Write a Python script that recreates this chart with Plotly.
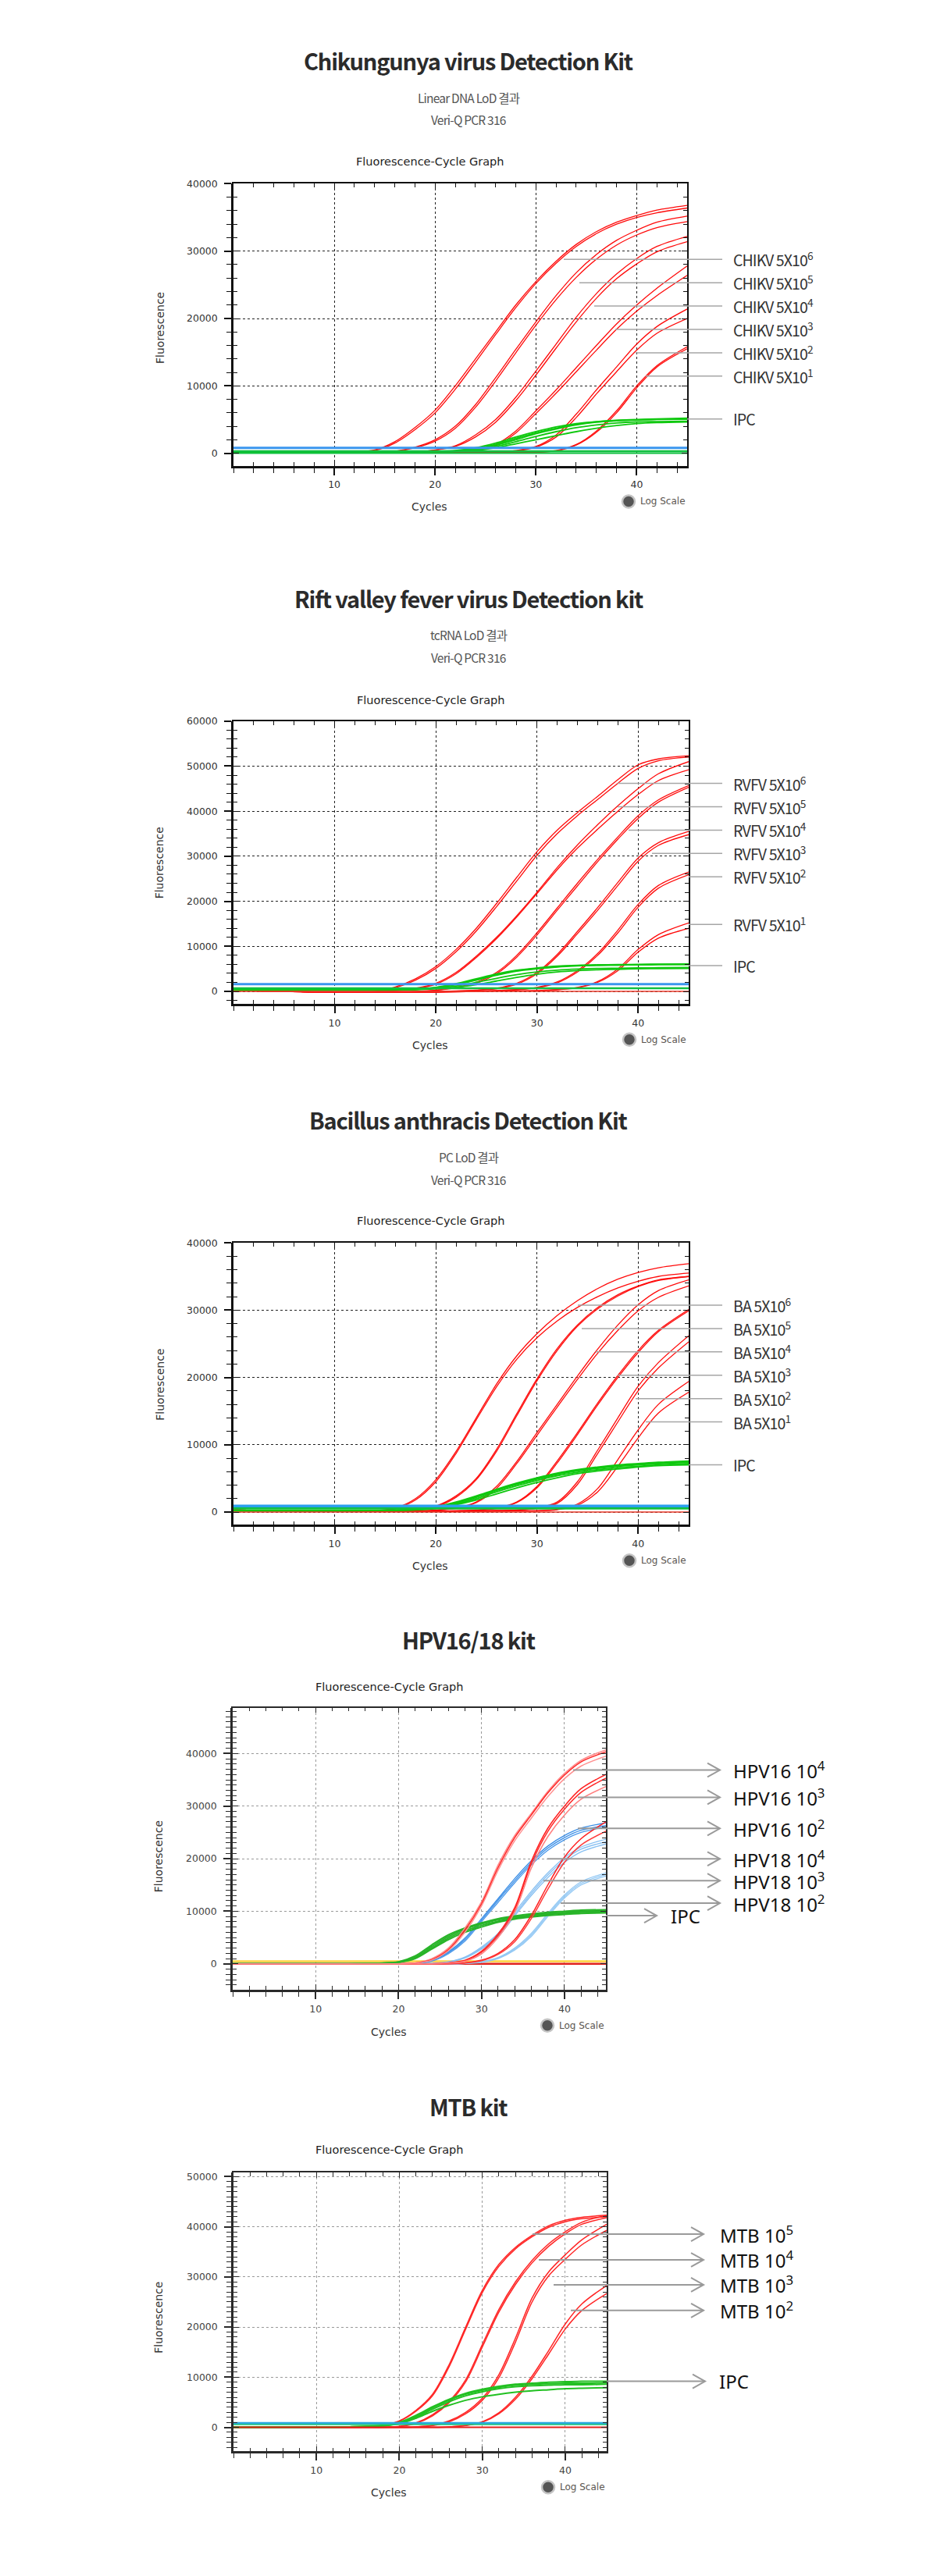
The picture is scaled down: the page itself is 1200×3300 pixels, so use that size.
import plotly.graph_objects as go

W, H = 1200, 3300

# ---------------- data ----------------
CYCLES = [0, 10, 14, 16, 18, 20, 22, 24, 26, 28, 30, 32, 34, 36, 38, 40, 42, 45]
CYCLE_ENDS = [0, 45]
X_TICKS = [10, 20, 30, 40]
X_TICK_TEXT = ["10", "20", "30", "40"]

# Chart 1 - Chikungunya
CHIKV_6_A = [100, 150, 500, 1700, 3800, 6400, 10000, 14000, 18000, 22000, 25500, 28500, 31000, 32900, 34300, 35300, 36100, 36800]
CHIKV_6_B = [100, 120, 400, 1500, 3500, 6000, 9500, 13500, 17600, 21600, 25200, 28200, 30700, 32600, 34000, 35000, 35700, 36400]
CHIKV_5_A = [100, 100, 150, 300, 900, 2000, 4000, 7200, 11200, 15400, 19500, 23400, 26800, 29500, 31600, 33100, 34300, 35200]
CHIKV_5_B = [100, 100, 120, 250, 800, 1800, 3700, 6800, 10700, 14900, 19000, 22800, 26100, 28800, 30900, 32400, 33500, 34400]
CHIKV_4_A = [100, 100, 100, 120, 200, 500, 1100, 2700, 5000, 8300, 12200, 16200, 20200, 23700, 26600, 28900, 30700, 32200]
CHIKV_4_B = [100, 100, 100, 110, 180, 450, 1000, 2400, 4600, 7800, 11600, 15600, 19500, 23000, 25900, 28100, 29900, 31400]
CHIKV_3_A = [100, 100, 100, 100, 100, 150, 250, 500, 1300, 3300, 6300, 9400, 12700, 16000, 19200, 22000, 24500, 27800]
CHIKV_3_B = [100, 100, 100, 100, 100, 130, 220, 450, 1100, 3000, 5900, 8900, 12100, 15300, 18400, 21100, 23400, 26400]
CHIKV_2_A = [100, 100, 100, 100, 100, 100, 100, 150, 200, 400, 1000, 2700, 5800, 9400, 12800, 16200, 18800, 21400]
CHIKV_2_B = [100, 100, 100, 100, 100, 100, 100, 130, 180, 350, 900, 2400, 5300, 8800, 12100, 15300, 17800, 20000]
CHIKV_1_A = [100, 100, 100, 100, 100, 100, 100, 100, 100, 100, 150, 400, 1300, 3300, 6300, 10000, 13000, 15800]
CHIKV_1_B = [100, 100, 100, 100, 100, 100, 100, 100, 100, 100, 130, 350, 1200, 3100, 6000, 9700, 12800, 15500]
CHIKV_IPC_1 = [200, 200, 200, 200, 250, 300, 400, 800, 1500, 2400, 3200, 3900, 4400, 4700, 4900, 5000, 5100, 5200]
CHIKV_IPC_2 = [200, 200, 200, 200, 230, 280, 350, 700, 1300, 2200, 3000, 3700, 4300, 4650, 4850, 4950, 5050, 5100]
CHIKV_IPC_3 = [200, 200, 200, 200, 220, 260, 300, 600, 1200, 2000, 2900, 3600, 4200, 4600, 4800, 4950, 5000, 5050]
CHIKV_IPC_4 = [200, 200, 200, 200, 210, 230, 250, 400, 800, 1400, 2000, 2600, 3200, 3700, 4100, 4400, 4550, 4650]
CHIKV_IPC_5 = [200, 200, 200, 200, 220, 250, 300, 500, 1000, 1700, 2500, 3200, 3800, 4200, 4500, 4650, 4700, 4750]
CHIKV_BASE_BLUE = [800, 800]
CHIKV_BASE_GREEN = [300, 300]
CHIKV_BASE_ZERO = [0, 0]
CHIKV_LABELS = ["CHIKV 5X10<sup>6</sup>", "CHIKV 5X10<sup>5</sup>", "CHIKV 5X10<sup>4</sup>",
                "CHIKV 5X10<sup>3</sup>", "CHIKV 5X10<sup>2</sup>", "CHIKV 5X10<sup>1</sup>", "IPC"]

# Chart 2 - Rift valley fever
RVFV_6_A = [200, -200, 0, 1000, 2800, 5500, 9300, 14000, 19500, 25300, 31000, 35800, 39700, 43300, 47000, 50300, 51600, 52300]
RVFV_6_B = [200, -200, -100, 800, 2500, 5100, 8800, 13400, 18800, 24500, 30200, 35000, 39000, 42600, 46200, 49500, 51200, 52000]
RVFV_5_A = [200, -200, -100, 200, 700, 1800, 4200, 7800, 12000, 16800, 22000, 27500, 32500, 37000, 41200, 45000, 48300, 51000]
RVFV_5_B = [200, -200, -100, 150, 600, 1600, 3900, 7500, 11700, 16500, 21700, 27000, 31800, 36000, 40000, 43700, 46800, 49200]
RVFV_4_A = [200, -200, -200, -100, 0, 300, 900, 2000, 4200, 8000, 13000, 18500, 24000, 29300, 34300, 39000, 42500, 45700]
RVFV_4_B = [200, -200, -200, -100, 0, 250, 800, 1800, 3900, 7600, 12500, 18000, 23400, 28800, 33800, 38400, 42000, 45300]
RVFV_3_A = [200, -200, -200, -200, -100, 0, 100, 300, 700, 1800, 4200, 8200, 13300, 18600, 24200, 29600, 33000, 35500]
RVFV_3_B = [200, -200, -200, -200, -100, 0, 80, 250, 600, 1600, 3900, 7800, 12800, 18000, 23500, 28900, 32400, 34800]
RVFV_2_A = [200, -200, -200, -200, -200, -100, 0, 100, 200, 400, 900, 2100, 4600, 8400, 13600, 19300, 23500, 26500]
RVFV_2_B = [200, -200, -200, -200, -200, -100, 0, 80, 180, 350, 800, 1900, 4300, 8000, 13000, 18700, 22900, 25900]
RVFV_1_A = [200, -200, -200, -200, -200, -200, -100, 0, 100, 100, 200, 400, 900, 2200, 5000, 9300, 12600, 15200]
RVFV_1_B = [200, -200, -200, -200, -200, -200, -100, 0, 80, 100, 150, 350, 800, 2000, 4600, 8700, 11800, 14000]
RVFV_IPC_1 = [300, 300, 300, 350, 500, 900, 1700, 2800, 3900, 4700, 5200, 5600, 5800, 5900, 5950, 6000, 6050, 6100]
RVFV_IPC_2 = [300, 300, 300, 330, 450, 800, 1500, 2500, 3600, 4500, 5000, 5400, 5650, 5800, 5850, 5900, 5950, 6000]
RVFV_IPC_3 = [300, 300, 300, 320, 400, 700, 1200, 2000, 2900, 3700, 4300, 4700, 4950, 5100, 5150, 5200, 5250, 5300]
RVFV_IPC_4 = [300, 300, 300, 310, 380, 600, 900, 1500, 2300, 3100, 3800, 4300, 4600, 4800, 4900, 5000, 5050, 5100]
RVFV_IPC_5 = [300, 300, 300, 340, 480, 850, 1600, 2600, 3700, 4600, 5100, 5500, 5700, 5800, 5850, 5900, 5950, 5950]
RVFV_BASE_BLUE = [1600, 1600]
RVFV_BASE_GREEN = [700, 700]
RVFV_BASE_ZERO = [0, 0]
RVFV_LABELS = ["RVFV 5X10<sup>6</sup>", "RVFV 5X10<sup>5</sup>", "RVFV 5X10<sup>4</sup>",
               "RVFV 5X10<sup>3</sup>", "RVFV 5X10<sup>2</sup>", "RVFV 5X10<sup>1</sup>", "IPC"]

# Chart 3 - Bacillus anthracis
BA_6_A = [300, 100, 200, 600, 2000, 4800, 9000, 14000, 19000, 23200, 26500, 29200, 31400, 33200, 34600, 35600, 36300, 36900]
BA_6_B = [300, 100, 150, 500, 1800, 4500, 8700, 13700, 18600, 22700, 25900, 28400, 30400, 32000, 33300, 34300, 35000, 35500]
BA_5_A = [300, 100, 100, 200, 400, 900, 2400, 5000, 9300, 14600, 19800, 24300, 27800, 30400, 32300, 33600, 34500, 35000]
BA_5_B = [300, 100, 100, 200, 350, 800, 2200, 4800, 9000, 14300, 19500, 24000, 27600, 30200, 32100, 33500, 34400, 35000]
BA_4_A = [300, 100, 100, 100, 150, 300, 600, 1500, 3800, 7500, 11800, 16000, 20200, 24200, 27800, 30800, 32900, 34500]
BA_4_B = [300, 100, 100, 100, 130, 280, 550, 1400, 3500, 7200, 11400, 15600, 19700, 23600, 27000, 29900, 31900, 33600]
BA_3_A = [300, 100, 100, 100, 100, 150, 200, 300, 600, 1500, 3800, 7600, 11800, 16200, 20300, 24000, 27000, 30100]
BA_3_B = [300, 100, 100, 100, 100, 130, 180, 280, 550, 1400, 3600, 7300, 11500, 15900, 20000, 23700, 26800, 29900]
BA_2_A = [300, 100, 100, 100, 100, 100, 150, 200, 250, 300, 600, 1500, 4500, 9200, 14000, 18700, 22200, 26200]
BA_2_B = [300, 100, 100, 100, 100, 100, 130, 180, 220, 280, 550, 1300, 4100, 8700, 13400, 18000, 21400, 25300]
BA_1_A = [300, 100, 100, 100, 100, 100, 100, 120, 150, 180, 200, 400, 1200, 3500, 7800, 12200, 16000, 19400]
BA_1_B = [300, 100, 100, 100, 100, 100, 100, 110, 130, 160, 180, 350, 1000, 3000, 6800, 11000, 14700, 17800]
BA_IPC_1 = [200, 200, 250, 300, 450, 800, 1500, 2400, 3400, 4300, 5100, 5800, 6300, 6700, 7000, 7200, 7400, 7600]
BA_IPC_2 = [200, 200, 240, 280, 400, 700, 1300, 2200, 3200, 4100, 4900, 5600, 6100, 6500, 6800, 7000, 7200, 7400]
BA_IPC_3 = [200, 200, 230, 270, 350, 600, 1200, 2000, 3000, 3900, 4700, 5400, 5900, 6300, 6600, 6800, 7000, 7200]
BA_IPC_4 = [200, 200, 220, 260, 300, 550, 1100, 1800, 2700, 3600, 4400, 5100, 5700, 6100, 6400, 6700, 6900, 7000]
BA_IPC_5 = [200, 200, 240, 290, 400, 750, 1400, 2300, 3300, 4200, 5000, 5700, 6200, 6600, 6900, 7100, 7300, 7500]
BA_BASE_BLUE = [900, 900]
BA_BASE_GREEN = [550, 550]
BA_BASE_ZERO = [0, 0]
BA_LABELS = ["BA 5X10<sup>6</sup>", "BA 5X10<sup>5</sup>", "BA 5X10<sup>4</sup>",
             "BA 5X10<sup>3</sup>", "BA 5X10<sup>2</sup>", "BA 5X10<sup>1</sup>", "IPC"]

# Chart 4 - HPV16/18
HPV16_4_A = [0, 0, 0, 0, 0, 0, 200, 1000, 3000, 6800, 11800, 18800, 24400, 28600, 32800, 36200, 38700, 40700]
HPV16_4_B = [0, 0, 0, 0, 0, 0, 150, 800, 2700, 6400, 11400, 18300, 24000, 28300, 32500, 35900, 38400, 40300]
HPV16_4_C = [0, 0, 0, 0, 0, 0, 150, 700, 2500, 6000, 11000, 17800, 23400, 27700, 31800, 35200, 37600, 39500]
HPV16_3_A = [0, 0, 0, 0, 0, 0, 0, 0, 200, 700, 2400, 5700, 10700, 19500, 25800, 30000, 33300, 36000]
HPV16_3_B = [0, 0, 0, 0, 0, 0, 0, 0, 150, 600, 2200, 5400, 10300, 19000, 25200, 29400, 32600, 35300]
HPV16_3_C = [0, 0, 0, 0, 0, 0, 0, 0, 150, 500, 1900, 5000, 9800, 18200, 24200, 28300, 31300, 33700]
HPV16_2_A = [0, 0, 0, 0, 0, 0, 0, 0, 0, 200, 700, 2000, 4600, 9200, 15000, 20300, 23800, 27000]
HPV16_2_B = [0, 0, 0, 0, 0, 0, 0, 0, 0, 150, 600, 1800, 4200, 8600, 14200, 19300, 22600, 25200]
HPV18_4_A = [0, 0, 0, 0, 0, 0, 100, 700, 2300, 4900, 8600, 12400, 16200, 19600, 22400, 24400, 25800, 26800]
HPV18_4_B = [0, 0, 0, 0, 0, 0, 80, 600, 2100, 4600, 8300, 12100, 15800, 19200, 22000, 24000, 25400, 26300]
HPV18_4_C = [0, 0, 0, 0, 0, 0, 80, 500, 1900, 4300, 8000, 11700, 15400, 18800, 21600, 23600, 25000, 26000]
HPV18_3_A = [0, 0, 0, 0, 0, 0, 0, 100, 400, 1300, 3200, 5800, 9800, 13800, 17300, 20200, 22200, 23700]
HPV18_3_B = [0, 0, 0, 0, 0, 0, 0, 80, 350, 1200, 3000, 5500, 9400, 13400, 16900, 19800, 21800, 23200]
HPV18_3_C = [0, 0, 0, 0, 0, 0, 0, 80, 300, 1100, 2800, 5200, 9100, 13000, 16400, 19300, 21300, 22800]
HPV18_2_A = [0, 0, 0, 0, 0, 0, 0, 0, 0, 100, 400, 1200, 3000, 5800, 9600, 13100, 15600, 17300]
HPV18_2_B = [0, 0, 0, 0, 0, 0, 0, 0, 0, 80, 350, 1100, 2800, 5500, 9300, 12800, 15300, 17000]
HPV18_2_C = [0, 0, 0, 0, 0, 0, 0, 0, 0, 80, 300, 1000, 2600, 5200, 9000, 12500, 15000, 16700]
HPV_IPC_1 = [0, 0, 0, 50, 150, 400, 1500, 3600, 5500, 6800, 7800, 8600, 9100, 9500, 9800, 10000, 10200, 10300]
HPV_IPC_2 = [0, 0, 0, 40, 120, 350, 1300, 3300, 5200, 6600, 7600, 8400, 8900, 9300, 9600, 9800, 10000, 10100]
HPV_IPC_3 = [0, 0, 0, 30, 100, 300, 1100, 3000, 4900, 6300, 7300, 8100, 8700, 9100, 9400, 9600, 9800, 9900]
HPV_IPC_4 = [0, 0, 0, 30, 100, 280, 1000, 2800, 4600, 6000, 7000, 7900, 8500, 8900, 9200, 9400, 9600, 9700]
HPV_BASE_YELLOW = [480, 480]
HPV_BASE_ZERO = [0, 0]
HPV_LABELS = ["HPV16 10<sup>4</sup>", "HPV16 10<sup>3</sup>", "HPV16 10<sup>2</sup>",
              "HPV18 10<sup>4</sup>", "HPV18 10<sup>3</sup>", "HPV18 10<sup>2</sup>", "IPC"]

# Chart 5 - MTB
MTB_5_A = [0, 0, 0, 100, 400, 1300, 3400, 6600, 12500, 20000, 27300, 32500, 35900, 38300, 40200, 41300, 41900, 42300]
MTB_5_B = [0, 0, 0, 80, 350, 1200, 3200, 6300, 12100, 19600, 26900, 32100, 35600, 38000, 39900, 41000, 41600, 42000]
MTB_4_A = [0, 0, 0, 0, 0, 200, 900, 2500, 5200, 9500, 16500, 23500, 29000, 33300, 36600, 39000, 40900, 42300]
MTB_4_B = [0, 0, 0, 0, 0, 150, 800, 2300, 4900, 9100, 16000, 23000, 28500, 32800, 36100, 38600, 40500, 41800]
MTB_3_A = [0, 0, 0, 0, 0, 0, 100, 400, 1300, 3000, 5800, 10500, 17800, 25800, 31000, 34400, 37400, 40500]
MTB_3_B = [0, 0, 0, 0, 0, 0, 80, 350, 1100, 2700, 5400, 9900, 17000, 25000, 30200, 33500, 36400, 39300]
MTB_2_A = [0, 0, 0, 0, 0, 0, 0, 0, 100, 400, 1100, 2900, 6000, 10200, 15300, 20600, 24600, 28300]
MTB_2_B = [0, 0, 0, 0, 0, 0, 0, 0, 80, 350, 1000, 2700, 5600, 9700, 14600, 19600, 23300, 26700]
MTB_IPC_1 = [0, 0, 100, 200, 400, 1000, 2400, 4100, 5600, 6800, 7600, 8200, 8600, 8800, 9000, 9100, 9200, 9200]
MTB_IPC_2 = [0, 0, 100, 180, 350, 900, 2200, 3900, 5400, 6600, 7400, 8000, 8400, 8600, 8700, 8800, 8800, 8900]
MTB_IPC_3 = [0, 0, 90, 160, 300, 800, 2000, 3600, 5100, 6300, 7100, 7700, 8100, 8300, 8400, 8500, 8500, 8600]
MTB_IPC_4 = [0, 0, 90, 160, 300, 700, 1800, 3200, 4400, 5400, 6100, 6600, 7000, 7300, 7500, 7700, 7800, 7900]
MTB_BASE_BLUE = [860, 860]
MTB_BASE_GREEN = [620, 620]
MTB_BASE_ZERO = [0, 0]
MTB_LABELS = ["MTB 10<sup>5</sup>", "MTB 10<sup>4</sup>", "MTB 10<sup>3</sup>", "MTB 10<sup>2</sup>", "IPC"]

TITLES = ["Chikungunya virus Detection Kit", "Rift valley fever virus Detection kit",
          "Bacillus anthracis Detection Kit", "HPV16/18 kit", "MTB kit"]
SUBTITLES = [["Linear DNA LoD 결과", "Veri-Q PCR 316"], ["tcRNA LoD 결과", "Veri-Q PCR 316"],
             ["PC LoD 결과", "Veri-Q PCR 316"], [], []]
Y_TICKS_40K = [0, 10000, 20000, 30000, 40000]
Y_TICKS_60K = [0, 10000, 20000, 30000, 40000, 50000, 60000]
Y_TICKS_50K = [0, 10000, 20000, 30000, 40000, 50000]

# ---------------- helpers ----------------
def fx(px):
    return px / W

def fy(py):
    return 1 - py / H

def ls(text, sp):
    return f'<span style="letter-spacing:{sp}px">{text}</span>'

RED = "#ff0a0a"
GREEN = "#0fc80f"

fig = go.Figure()
annotations = []
shapes = []

def add_curve(i, ys, color, width, xs=CYCLES, shape="spline", opacity=1.0):
    fig.add_trace(go.Scatter(x=xs, y=ys, mode="lines", xaxis=f"x{i}", yaxis=f"y{i}",
                             line=dict(color=color, width=width, shape=shape, smoothing=0.9),
                             opacity=opacity, hoverinfo="skip", showlegend=False))

# chart layout specs (pixel positions of frames and text); dy = vertical nudge per chart
def spec(dy, **kw):
    out = dict(kw)
    out["T"] += dy
    out["B"] += dy
    out["title_y"] += dy
    out["sub_y"] = [v + dy for v in out["sub_y"]]
    out["gt"] = (out["gt"][0], out["gt"][1] + dy)
    out["cyc"] = (out["cyc"][0], out["cyc"][1] + dy)
    out["yl"] = (out["yl"][0], out["yl"][1] + dy)
    out["logc"] = (out["logc"][0], out["logc"][1] + dy)
    out["dy"] = dy
    return out

SPECS = [
    spec(-5, L=299, R=880, T=233, B=595, yr=[-1850, 40000], yt=Y_TICKS_40K, ym=2000, kind="A",
         title_y=74, sub_y=[122, 150], gt=(550, 204), cyc=(550, 648), yl=(205, 418), logc=(805, 641)),
    spec(-4, L=299, R=882, T=922, B=1285, yr=[-2750, 60000], yt=Y_TICKS_60K, ym=2000, kind="A",
         title_y=764, sub_y=[811, 840], gt=(551, 895), cyc=(551, 1338), yl=(204, 1104), logc=(806, 1331)),
    spec(-2, L=299, R=882, T=1590, B=1952, yr=[-1880, 40000], yt=Y_TICKS_40K, ym=2000, kind="A",
         title_y=1431, sub_y=[1480, 1509], gt=(551, 1562), cyc=(551, 2005), yl=(205, 1772), logc=(806, 1998)),
    spec(-2, L=298, R=776, T=2187, B=2549, yr=[-4900, 48700], yt=Y_TICKS_40K, ym=1000, kind="B",
         title_y=2099, sub_y=[], gt=(498, 2160), cyc=(498, 2603), yl=(203, 2378), logc=(701, 2595)),
    spec(0, L=299, R=777, T=2782, B=3140, yr=[-4800, 50800], yt=Y_TICKS_50K, ym=1000, kind="B",
         title_y=2697, sub_y=[], gt=(498, 2753), cyc=(498, 3193), yl=(203, 2968), logc=(702, 3186)),
]

# ---------------- traces ----------------
# chart 1
for ys in [CHIKV_6_A, CHIKV_6_B, CHIKV_5_A, CHIKV_5_B, CHIKV_4_A, CHIKV_4_B,
           CHIKV_3_A, CHIKV_3_B, CHIKV_2_A, CHIKV_2_B, CHIKV_1_A, CHIKV_1_B]:
    add_curve(1, ys, RED, 1.3)
for ys in [CHIKV_IPC_1, CHIKV_IPC_2, CHIKV_IPC_3, CHIKV_IPC_4, CHIKV_IPC_5]:
    add_curve(1, ys, GREEN, 1.8)
add_curve(1, CHIKV_BASE_ZERO, "#10c040", 2, CYCLE_ENDS, "linear")
add_curve(1, CHIKV_BASE_GREEN, "#10c040", 2.5, CYCLE_ENDS, "linear")
add_curve(1, CHIKV_BASE_BLUE, "#3a96ee", 3, CYCLE_ENDS, "linear")

# chart 2
for ys in [RVFV_6_A, RVFV_6_B, RVFV_5_A, RVFV_5_B, RVFV_4_A, RVFV_4_B,
           RVFV_3_A, RVFV_3_B, RVFV_2_A, RVFV_2_B, RVFV_1_A, RVFV_1_B]:
    add_curve(2, ys, RED, 1.3)
for ys in [RVFV_IPC_1, RVFV_IPC_2, RVFV_IPC_3, RVFV_IPC_4, RVFV_IPC_5]:
    add_curve(2, ys, GREEN, 1.8)
add_curve(2, RVFV_BASE_ZERO, "#e83a2a", 1.5, CYCLE_ENDS, "linear")
add_curve(2, RVFV_BASE_GREEN, "#10c040", 2.5, CYCLE_ENDS, "linear")
add_curve(2, RVFV_BASE_BLUE, "#3a96ee", 3, CYCLE_ENDS, "linear")

# chart 3
for ys in [BA_6_A, BA_6_B, BA_5_A, BA_5_B, BA_4_A, BA_4_B,
           BA_3_A, BA_3_B, BA_2_A, BA_2_B, BA_1_A, BA_1_B]:
    add_curve(3, ys, RED, 1.3)
for ys in [BA_IPC_1, BA_IPC_2, BA_IPC_3, BA_IPC_4, BA_IPC_5]:
    add_curve(3, ys, GREEN, 1.8)
add_curve(3, BA_BASE_ZERO, "#e83a2a", 1.5, CYCLE_ENDS, "linear")
add_curve(3, BA_BASE_GREEN, "#10c040", 3, CYCLE_ENDS, "linear")
add_curve(3, BA_BASE_BLUE, "#2aa0ee", 3.5, CYCLE_ENDS, "linear")

# chart 4
add_curve(4, HPV_BASE_YELLOW, "#ffd23c", 2.5, CYCLE_ENDS, "linear")
add_curve(4, HPV_BASE_ZERO, "#e2221c", 2.5, CYCLE_ENDS, "linear")
for ys, c in [(HPV18_2_A, "#92c8f4"), (HPV18_2_B, "#92c8f4"), (HPV18_2_C, "#92c8f4"),
              (HPV18_3_A, "#88c0f2"), (HPV18_3_B, "#88c0f2"), (HPV18_3_C, "#88c0f2"),
              (HPV18_4_A, "#3a8ee6"), (HPV18_4_B, "#3a8ee6"), (HPV18_4_C, "#4a98ea")]:
    add_curve(4, ys, c, 1.3)
for ys in [HPV_IPC_1, HPV_IPC_2, HPV_IPC_3, HPV_IPC_4]:
    add_curve(4, ys, "#28b428", 2.0)
for ys, c in [(HPV16_2_A, "#ff2020"), (HPV16_2_B, "#ff3a3a"),
              (HPV16_3_A, "#ff2020"), (HPV16_3_B, "#ff2a2a"), (HPV16_3_C, "#ff8080"),
              (HPV16_4_A, "#ff8a8a"), (HPV16_4_B, "#ff2424"), (HPV16_4_C, "#ff9090")]:
    add_curve(4, ys, c, 1.5)

# chart 5
for ys in [MTB_5_A, MTB_5_B, MTB_4_A, MTB_4_B, MTB_3_A, MTB_3_B, MTB_2_A, MTB_2_B]:
    add_curve(5, ys, "#ff2424", 1.5)
for ys in [MTB_IPC_1, MTB_IPC_2, MTB_IPC_3, MTB_IPC_4]:
    add_curve(5, ys, "#22c022", 2.0)
add_curve(5, MTB_BASE_ZERO, "#e2221c", 2, CYCLE_ENDS, "linear")
add_curve(5, MTB_BASE_GREEN, "#20c878", 2.5, CYCLE_ENDS, "linear")
add_curve(5, MTB_BASE_BLUE, "#2aa8e0", 2.5, CYCLE_ENDS, "linear")

# dummy traces to host the outer-tick overlay axes
for i in range(1, 6):
    fig.add_trace(go.Scatter(x=[None], y=[None], xaxis=f"x{i+5}", yaxis=f"y{i+5}",
                             mode="lines", hoverinfo="skip", showlegend=False))

# ---------------- axes ----------------
layout_axes = {}
for i, s in enumerate(SPECS, start=1):
    A = s["kind"] == "A"
    xdom = [fx(s["L"]), fx(s["R"])]
    ydom = [fy(s["B"]), fy(s["T"])]
    axcol = "#111111" if A else "#2a2a2a"
    gcol = "#222222" if A else "#9a9a9a"
    tfont = dict(family="DejaVu Sans", size=12.5, color="#333333" if A else "#444444")
    layout_axes[f"xaxis{i}"] = dict(
        domain=xdom, anchor=f"y{i}", range=[0, 45], tickmode="array", tickvals=X_TICKS,
        ticktext=X_TICK_TEXT, ticks="inside", ticklen=7, tickwidth=1.2, tickcolor=axcol,
        mirror="ticks", showline=True, linecolor=axcol, linewidth=1.5,
        showgrid=True, gridcolor=gcol, griddash="dot", gridwidth=1, zeroline=False,
        tickfont=tfont, ticklabelstandoff=12,
        minor=dict(tickmode="linear", tick0=0, dtick=2, ticks="inside", ticklen=5,
                   tickwidth=1.2, tickcolor=axcol, showgrid=False),
    )
    layout_axes[f"yaxis{i}"] = dict(
        domain=ydom, anchor=f"x{i}", range=s["yr"], tickmode="array", tickvals=s["yt"],
        ticktext=[str(v) for v in s["yt"]], ticks="inside", ticklen=7, tickwidth=1.2,
        tickcolor=axcol, mirror="ticks", showline=True, linecolor=axcol, linewidth=1.5,
        showgrid=True, gridcolor=gcol, griddash="dot", gridwidth=1, zeroline=False,
        tickfont=tfont, ticklabelstandoff=16,
        minor=dict(tickmode="linear", tick0=0, dtick=s["ym"], ticks="inside", ticklen=5,
                   tickwidth=1.2, tickcolor=axcol, showgrid=False),
    )
    layout_axes[f"xaxis{i+5}"] = dict(
        overlaying=f"x{i}", anchor=f"y{i+5}", side="bottom", range=[0, 45],
        tickmode="array", tickvals=X_TICKS, ticks="outside", ticklen=9, tickwidth=1.5,
        tickcolor=axcol, showticklabels=False, showline=True, linecolor=axcol,
        linewidth=3 if A else 2.5, showgrid=False, zeroline=False,
        minor=dict(tickmode="linear", tick0=0, dtick=2, ticks="outside", ticklen=6,
                   tickwidth=1.2, tickcolor=axcol, showgrid=False),
    )
    layout_axes[f"yaxis{i+5}"] = dict(
        overlaying=f"y{i}", anchor=f"x{i+5}", side="left", range=s["yr"],
        tickmode="array", tickvals=s["yt"], ticks="outside", ticklen=9, tickwidth=1.5,
        tickcolor=axcol, showticklabels=False, showline=True, linecolor=axcol,
        linewidth=3 if A else 2.5, showgrid=False, zeroline=False,
        minor=dict(tickmode="linear", tick0=0, dtick=s["ym"], ticks="outside", ticklen=6,
                   tickwidth=1.2, tickcolor=axcol, showgrid=False),
    )

# ---------------- text ----------------
def ann(text, px, py, size, color, family, xanchor="center", angle=0, weight=None):
    f = dict(size=size, color=color, family=family)
    if weight:
        f["weight"] = weight
    annotations.append(dict(text=text, x=fx(px), y=fy(py), xref="paper", yref="paper",
                            xanchor=xanchor, yanchor="middle", showarrow=False,
                            font=f, textangle=angle))

for i, s in enumerate(SPECS):
    ann(ls(TITLES[i], -1.2), 600, s["title_y"], 29, "#2b2b2b", "Noto Sans CJK KR", weight=700)
    for txt, yy in zip(SUBTITLES[i], s["sub_y"]):
        ann(ls(txt, -0.8), 600, yy, 15.5, "#555555", "Noto Sans CJK KR")
    ann("Fluorescence-Cycle Graph", s["gt"][0], s["gt"][1], 14.5, "#222222", "DejaVu Sans")
    ann("Cycles", s["cyc"][0], s["cyc"][1], 14, "#333333", "DejaVu Sans")
    ann("Fluorescence", s["yl"][0], s["yl"][1], 14, "#333333", "DejaVu Sans", angle=-90)
    cx, cy = s["logc"]
    shapes.append(dict(type="circle", xref="paper", yref="paper",
                       x0=fx(cx - 8), x1=fx(cx + 8), y0=fy(cy + 8), y1=fy(cy - 8),
                       fillcolor="#555555", line=dict(color="#c4c4c4", width=2.5)))
    ann("Log Scale", cx + 13, cy, 12, "#5a5550", "DejaVu Sans", xanchor="left")

# leader lines charts 1-3
LEADERS = [
    (SPECS[0], CHIKV_LABELS, [330, 360, 390, 420, 450, 480, 535], [722, 742, 761, 788, 814, 827, 880]),
    (SPECS[1], RVFV_LABELS, [1002, 1032, 1062, 1092, 1122, 1183, 1236], [791, 791, 805, 835, 882, 882, 882]),
    (SPECS[2], BA_LABELS, [1670, 1700, 1730, 1760, 1790, 1820, 1875], [740, 745, 763, 791, 814, 827, 882]),
]
for s, labels, ys, x0s in LEADERS:
    for lab, yy0, x0 in zip(labels, ys, x0s):
        yy = yy0 + s["dy"]
        shapes.append(dict(type="line", xref="paper", yref="paper", x0=fx(x0), x1=fx(925),
                           y0=fy(yy), y1=fy(yy), line=dict(color="#a6a6a6", width=1.5)))
        ann(ls(lab, -0.9), 937, yy, 19.5, "#333333", "Noto Sans CJK KR", xanchor="left")

# arrow labels charts 4-5
ARROWS = [
    (SPECS[3], HPV_LABELS, [2267, 2302, 2342, 2381, 2409, 2438, 2454],
     [734, 740, 740, 701, 696, 718, 776], [922, 922, 922, 922, 922, 922, 841],
     [937, 937, 937, 937, 937, 937, 857]),
    (SPECS[4], MTB_LABELS, [2861, 2894, 2926, 2959, 3050],
     [682, 690, 709, 731, 777], [901, 901, 901, 901, 903], [920, 920, 920, 920, 919]),
]
for s, labels, ys, x0s, tips, tx in ARROWS:
    for lab, yy0, x0, tip, t in zip(labels, ys, x0s, tips, tx):
        yy = yy0 + s["dy"]
        lc = dict(color="#9a9a9a", width=2)
        shapes.append(dict(type="line", xref="paper", yref="paper", x0=fx(x0), x1=fx(tip),
                           y0=fy(yy), y1=fy(yy), line=lc))
        shapes.append(dict(type="path", xref="paper", yref="paper",
                           path=f"M {fx(tip-16)},{fy(yy-9)} L {fx(tip)},{fy(yy)} L {fx(tip-16)},{fy(yy+9)}",
                           line=lc))
        ann(lab, t, yy, 24, "#111111", "Noto Sans", xanchor="left")

fig.update_layout(width=W, height=H, margin=dict(l=0, r=0, t=0, b=0),
                  paper_bgcolor="white", plot_bgcolor="white", showlegend=False,
                  annotations=annotations, shapes=shapes, **layout_axes)

fig.write_html("out.html", config={"displayModeBar": False},
               post_script="document.body.style.margin='0';")
